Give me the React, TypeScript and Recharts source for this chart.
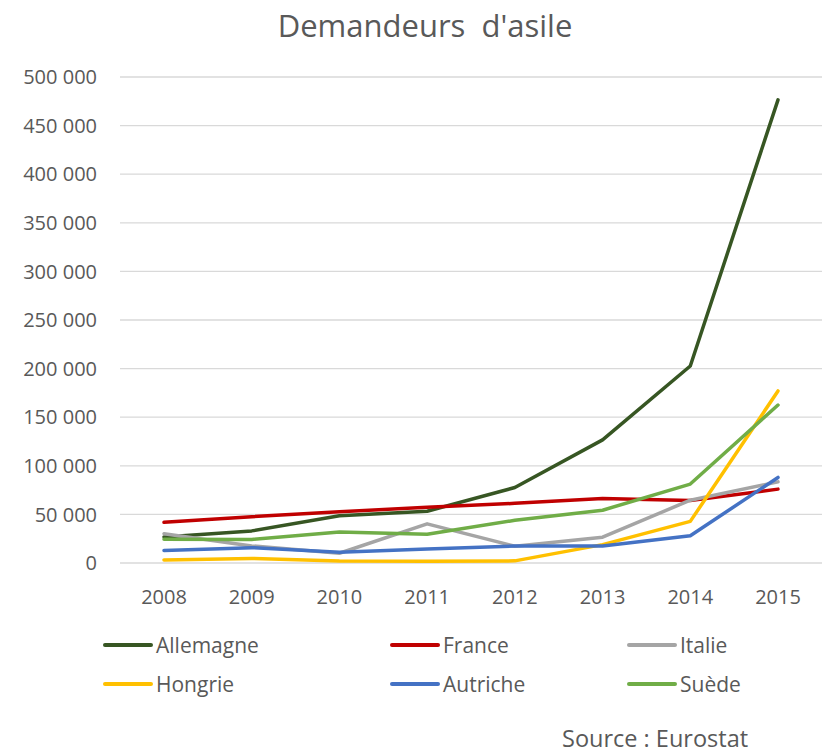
import { LineChart, Line, XAxis, YAxis, CartesianGrid } from "recharts"

const years = ["2008", "2009", "2010", "2011", "2012", "2013", "2014", "2015"]
const allemagne = [26850, 33030, 48590, 53240, 77650, 126700, 202650, 476500]
const france = [41850, 47600, 52700, 57300, 61400, 66300, 64300, 76000]
const italie = [30150, 17600, 10000, 40300, 17200, 26600, 64600, 83500]
const hongrie = [3200, 4700, 2100, 1700, 2200, 18900, 42800, 177000]
const autriche = [12800, 15800, 11000, 14400, 17400, 17500, 28000, 88000]
const suede = [24400, 24200, 31900, 29600, 43900, 54300, 81200, 162500]
const yTicks = [0, 50000, 100000, 150000, 200000, 250000, 300000, 350000, 400000, 450000, 500000]

const series = [
  { key: "Allemagne", values: allemagne, color: "#375623" },
  { key: "France", values: france, color: "#C00000" },
  { key: "Italie", values: italie, color: "#A5A5A5" },
  { key: "Hongrie", values: hongrie, color: "#FFC000" },
  { key: "Autriche", values: autriche, color: "#4472C4" },
  { key: "Suède", values: suede, color: "#70AD47" },
]

const font = "'Open Sans', sans-serif"
const textColor = "#595959"

// legend column positions (marker start)
const legendCols = [103, 390, 627]
const legendRows = [645, 684]

function formatThousands(v: number) {
  return v === 0 ? "0" : v.toLocaleString("en-US").replace(/,/g, " ")
}

export default function App() {
  const chartData = years.map((year, i) => {
    const row: Record<string, string | number> = { year }
    series.forEach((s) => {
      row[s.key] = s.values[i]
    })
    return row
  })

  return (
    <div style={{ position: "absolute", top: 0, left: 0, width: 827, height: 753, background: "#fff", fontFamily: font }}>
      <div
        style={{
          position: "absolute",
          top: 6,
          left: 0,
          width: 850,
          textAlign: "center",
          fontSize: 31,
          lineHeight: "38px",
          color: textColor,
          whiteSpace: "pre",
        }}
      >
        {"Demandeurs  d'asile"}
      </div>

      <LineChart width={827} height={640} data={chartData} margin={{ top: 77, right: 5, left: 0, bottom: 47 }}>
        <CartesianGrid vertical={false} stroke="#d9d9d9" strokeWidth={1.3} />
        <XAxis
          dataKey="year"
          axisLine={false}
          tickLine={false}
          tickSize={0}
          tickMargin={27}
          height={30}
          padding={{ left: 44, right: 44 }}
          tick={{ fill: textColor, fontSize: 20, fontFamily: font }}
        />
        <YAxis
          domain={[0, 500000]}
          ticks={yTicks}
          width={120}
          axisLine={false}
          tickLine={false}
          tickSize={0}
          tickMargin={23}
          tickFormatter={formatThousands}
          tick={{ fill: textColor, fontSize: 20, fontFamily: font }}
        />
        {series.map((s) => (
          <Line
            key={s.key}
            type="linear"
            dataKey={s.key}
            stroke={s.color}
            strokeWidth={3.5}
            strokeLinejoin="round"
            strokeLinecap="round"
            dot={false}
            activeDot={false}
            isAnimationActive={false}
          />
        ))}
      </LineChart>

      {series.map((s, i) => (
        <div
          key={s.key}
          style={{
            position: "absolute",
            left: legendCols[i % 3],
            top: legendRows[Math.floor(i / 3)] - 12,
            height: 24,
            display: "flex",
            alignItems: "center",
            fontSize: 21,
            lineHeight: "24px",
            color: textColor,
          }}
        >
          <span style={{ display: "inline-block", width: 50, height: 4, background: s.color, marginRight: 3, borderRadius: 2 }} />
          {s.key}
        </div>
      ))}

      <div style={{ position: "absolute", left: 562, top: 725, fontSize: 23.5, lineHeight: "26px", color: textColor, whiteSpace: "nowrap" }}>
        Source : Eurostat
      </div>
    </div>
  )
}
